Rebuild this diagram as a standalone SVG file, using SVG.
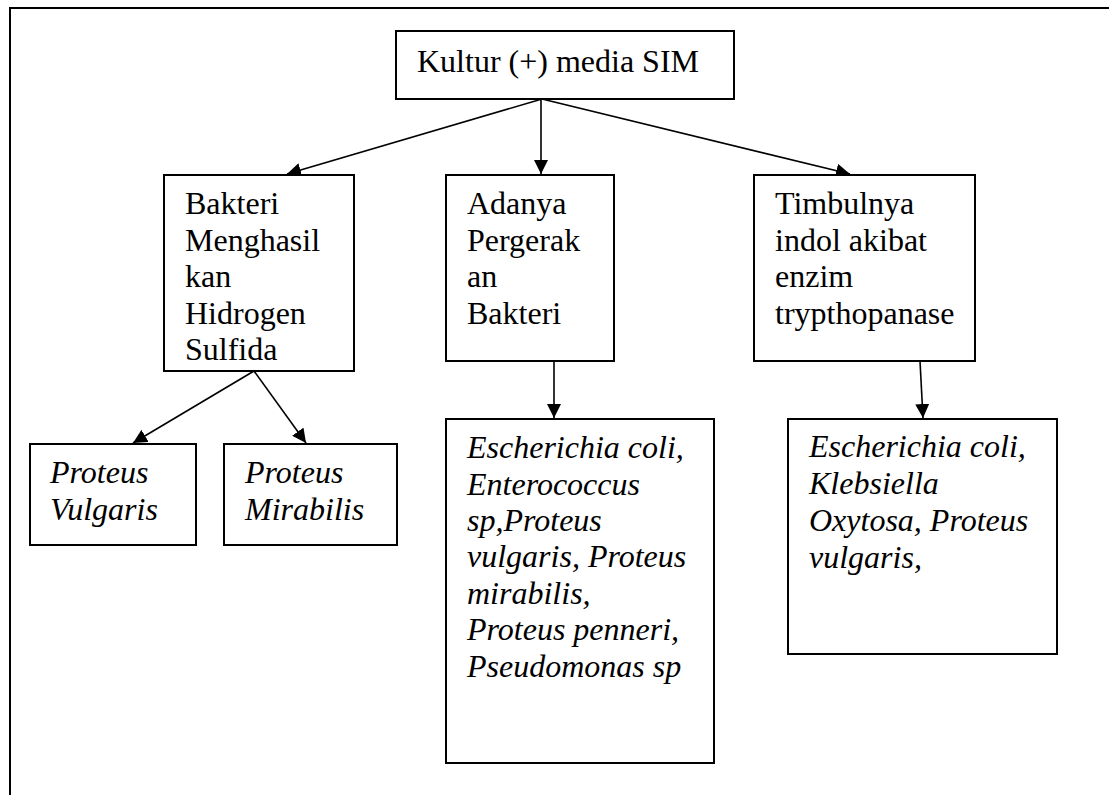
<svg xmlns="http://www.w3.org/2000/svg" width="1109" height="795" viewBox="0 0 1109 795">
  <style>
    .box { fill: #ffffff; stroke: #000000; stroke-width: 2; }
    .frame { fill: none; stroke: #000000; stroke-width: 2; }
    .link { fill: none; stroke: #000000; stroke-width: 1.6; marker-end: url(#arrow); }
    .t { font-family: "Liberation Serif", "Times New Roman", serif; font-size: 32px; fill: #000000; }
    .i { font-style: italic; }
  </style>
  <defs>
    <marker id="arrow" markerUnits="userSpaceOnUse" markerWidth="15" markerHeight="14" refX="14" refY="7" orient="auto">
      <path d="M0,0 L14,7 L0,14 z" fill="#000000"/>
    </marker>
  </defs>

  <rect x="0" y="0" width="1109" height="795" fill="#ffffff"/>

  <!-- page frame: top and left edges -->
  <path class="frame" d="M10,795 L10,8 L1109,8"/>

  <g id="connectors">
    <line class="link" x1="542" y1="99" x2="287" y2="174"/>
    <line class="link" x1="541" y1="99" x2="541" y2="174"/>
    <line class="link" x1="542" y1="99" x2="850" y2="174"/>
    <line class="link" x1="254" y1="371" x2="133" y2="443"/>
    <line class="link" x1="254" y1="371" x2="306" y2="443"/>
    <line class="link" x1="554" y1="361" x2="554" y2="418"/>
    <line class="link" x1="920" y1="361" x2="923" y2="418"/>
  </g>

  <g id="root">
    <rect class="box" x="396" y="31" width="338" height="68"/>
    <text class="t" x="417" y="72">Kultur (+) media SIM</text>
  </g>

  <g id="h2s">
    <rect class="box" x="164" y="175" width="190" height="196"/>
    <text class="t" x="185" y="214">
      <tspan x="185" y="214">Bakteri</tspan>
      <tspan x="185" y="250.5">Menghasil</tspan>
      <tspan x="185" y="287">kan</tspan>
      <tspan x="185" y="323.5">Hidrogen</tspan>
      <tspan x="185" y="360">Sulfida</tspan>
    </text>
  </g>

  <g id="motility">
    <rect class="box" x="446" y="175" width="168" height="186"/>
    <text class="t" x="467" y="214">
      <tspan x="467" y="214">Adanya</tspan>
      <tspan x="467" y="250.5">Pergerak</tspan>
      <tspan x="467" y="287">an</tspan>
      <tspan x="467" y="323.5">Bakteri</tspan>
    </text>
  </g>

  <g id="indole">
    <rect class="box" x="754" y="175" width="221" height="186"/>
    <text class="t" x="775" y="214">
      <tspan x="775" y="214">Timbulnya</tspan>
      <tspan x="775" y="250.5">indol akibat</tspan>
      <tspan x="775" y="287">enzim</tspan>
      <tspan x="775" y="323.5">trypthopanase</tspan>
    </text>
  </g>

  <g id="p-vulgaris">
    <rect class="box" x="30" y="444" width="166" height="101"/>
    <text class="t i" x="50" y="483">
      <tspan x="50" y="483">Proteus</tspan>
      <tspan x="50" y="520">Vulgaris</tspan>
    </text>
  </g>

  <g id="p-mirabilis">
    <rect class="box" x="224" y="444" width="173" height="101"/>
    <text class="t i" x="245" y="483">
      <tspan x="245" y="483">Proteus</tspan>
      <tspan x="245" y="520">Mirabilis</tspan>
    </text>
  </g>

  <g id="motile-species">
    <rect class="box" x="446" y="419" width="268" height="344"/>
    <text class="t i" x="467" y="458">
      <tspan x="467" y="458">Escherichia coli,</tspan>
      <tspan x="467" y="494.5">Enterococcus</tspan>
      <tspan x="467" y="531">sp,Proteus</tspan>
      <tspan x="467" y="567">vulgaris, Proteus</tspan>
      <tspan x="467" y="603.5">mirabilis,</tspan>
      <tspan x="467" y="640">Proteus penneri,</tspan>
      <tspan x="467" y="676.5">Pseudomonas sp</tspan>
    </text>
  </g>

  <g id="indole-species">
    <rect class="box" x="788" y="419" width="269" height="235"/>
    <text class="t i" x="809" y="457">
      <tspan x="809" y="457">Escherichia coli,</tspan>
      <tspan x="809" y="493.5">Klebsiella</tspan>
      <tspan x="809" y="531">Oxytosa, Proteus</tspan>
      <tspan x="809" y="568">vulgaris,</tspan>
    </text>
  </g>
</svg>
